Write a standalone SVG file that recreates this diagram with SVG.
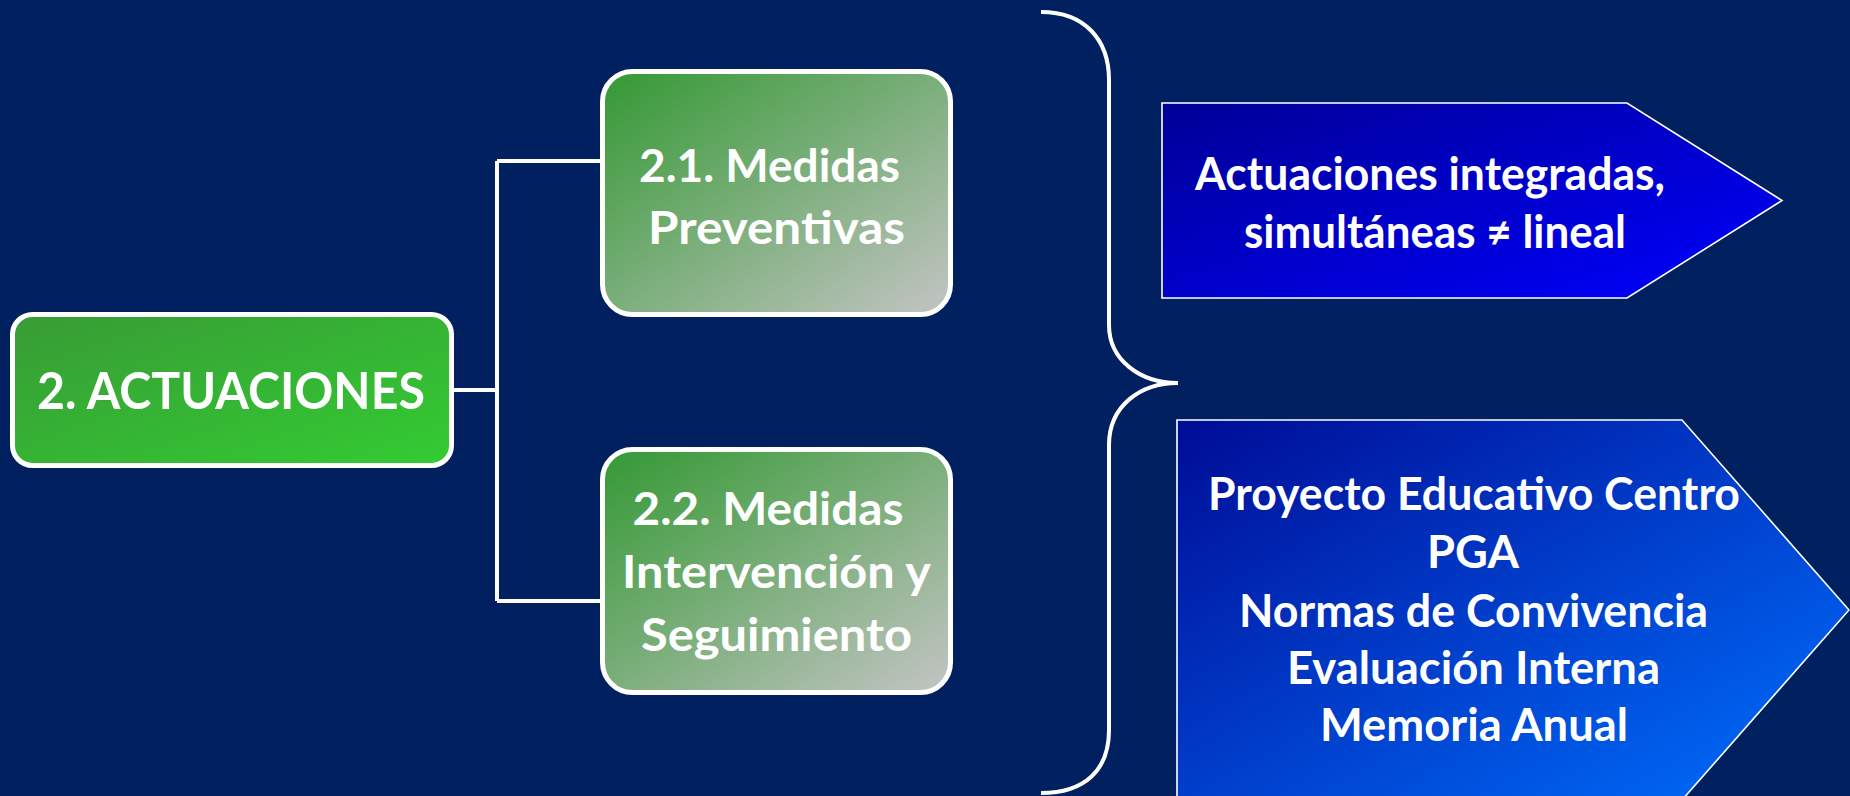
<svg xmlns="http://www.w3.org/2000/svg" width="1850" height="796" viewBox="0 0 1850 796">
<style>
.t{font-family:Lato,"Open Sans","Liberation Sans",sans-serif;font-weight:700;fill:#fff;text-anchor:middle}
.box{stroke:#fff;stroke-width:5}
.con{stroke:#fff;stroke-width:4;fill:none}
.arr{stroke:#fff;stroke-width:1.6}
</style>
<defs>
<linearGradient id="gRoot" x1="0" y1="0" x2="1" y2="1">
<stop offset="0" stop-color="#389B35"/><stop offset="1" stop-color="#33CC33"/>
</linearGradient>
<linearGradient id="gSub" x1="0" y1="0" x2="1" y2="1">
<stop offset="0" stop-color="#339933"/><stop offset="1" stop-color="#C4C4C4"/>
</linearGradient>
<linearGradient id="gA1" x1="0" y1="0" x2="1" y2="1">
<stop offset="0" stop-color="#000096"/><stop offset="1" stop-color="#0000FF"/>
</linearGradient>
<linearGradient id="gA2" x1="0" y1="0" x2="1" y2="1">
<stop offset="0" stop-color="#000C96"/><stop offset="1" stop-color="#0070FF"/>
</linearGradient>
</defs>
<rect width="1850" height="796" fill="#00205F"/>
<g id="connectors">
<path class="con" d="M452,390 H497 M497,161 V601 M497,161 H602 M497,601 H602"/>
<path class="con" d="M1041,12 C1085,12 1109,40 1109,80 L1109,325 C1109,360 1140,383 1178,383 C1140,383 1109,406 1109,445 L1109,730 C1109,770 1085,793 1041,793"/>
</g>
<g id="root">
<rect class="box" x="12.5" y="314.5" width="439" height="151" rx="20" fill="url(#gRoot)"/>
<text class="t" x="231" y="409" font-size="51" textLength="388" lengthAdjust="spacingAndGlyphs">2. ACTUACIONES</text>
</g>
<g id="n21">
<rect class="box" x="602.5" y="71.5" width="348" height="243" rx="30" fill="url(#gSub)"/>
<text class="t" x="769.5" y="182" font-size="46" textLength="261" lengthAdjust="spacingAndGlyphs">2.1. Medidas</text>
<text class="t" x="776.5" y="244" font-size="46" textLength="257" lengthAdjust="spacingAndGlyphs">Preventivas</text>
</g>
<g id="n22">
<rect class="box" x="602.5" y="449.5" width="348" height="243" rx="30" fill="url(#gSub)"/>
<text class="t" x="768" y="525" font-size="46" textLength="271" lengthAdjust="spacingAndGlyphs">2.2. Medidas</text>
<text class="t" x="776.5" y="588" font-size="46" textLength="309" lengthAdjust="spacingAndGlyphs">Intervención y</text>
<text class="t" x="776.5" y="651" font-size="46" textLength="271" lengthAdjust="spacingAndGlyphs">Seguimiento</text>
</g>
<g id="a1">
<polygon class="arr" points="1162,103 1627,103 1782,200.5 1627,298 1162,298" fill="url(#gA1)"/>
<text class="t" x="1430" y="190" font-size="45" textLength="470" lengthAdjust="spacingAndGlyphs">Actuaciones integradas,</text>
<text class="t" x="1435" y="248" font-size="45" textLength="382" lengthAdjust="spacingAndGlyphs">simultáneas ≠ lineal</text>
</g>
<g id="a2">
<polygon class="arr" points="1177,420 1682,420 1849,610 1682,800 1177,800" fill="url(#gA2)"/>
<text class="t" x="1474" y="510" font-size="45" textLength="532" lengthAdjust="spacingAndGlyphs">Proyecto Educativo Centro</text>
<text class="t" x="1473" y="568" font-size="45" textLength="92" lengthAdjust="spacingAndGlyphs">PGA</text>
<text class="t" x="1473.5" y="627" font-size="45" textLength="469" lengthAdjust="spacingAndGlyphs">Normas de Convivencia</text>
<text class="t" x="1473.5" y="684" font-size="45" textLength="373" lengthAdjust="spacingAndGlyphs">Evaluación Interna</text>
<text class="t" x="1474" y="741" font-size="45" textLength="308" lengthAdjust="spacingAndGlyphs">Memoria Anual</text>
</g>
</svg>
